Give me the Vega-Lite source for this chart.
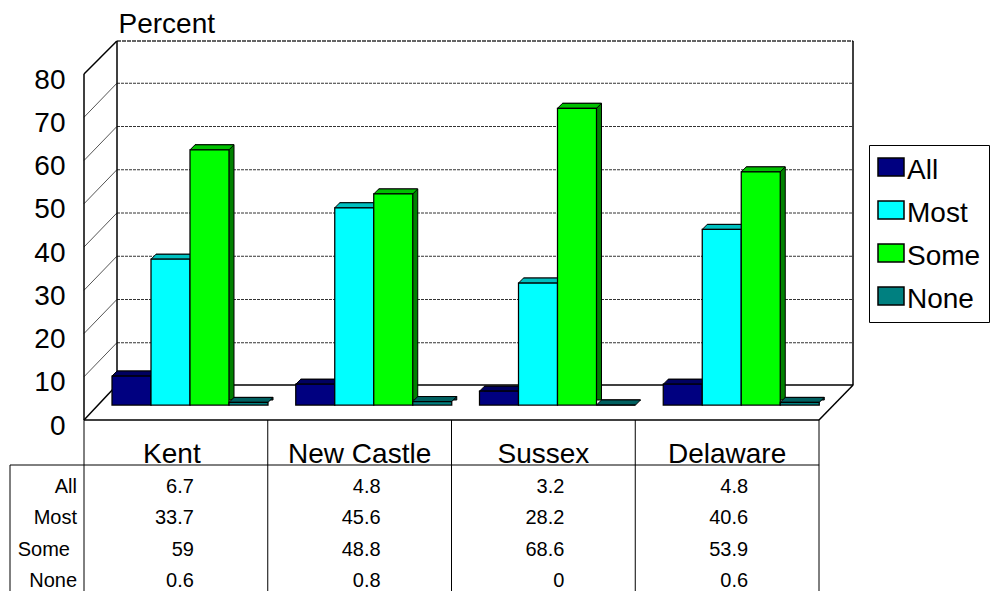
{
  "$schema": "https://vega.github.io/schema/vega-lite/v6.json",
  "width": 990,
  "height": 591,
  "padding": 0,
  "autosize": {"type": "none"},
  "background": "white",
  "config": {
    "view": {"stroke": null},
    "font": "Liberation Sans",
    "legend": {"labelFont": "Liberation Sans"}
  },
  "datasets": {
    "shares": [
      {"county": "Kent", "series": "All", "value": 6.7},
      {"county": "Kent", "series": "Most", "value": 33.7},
      {"county": "Kent", "series": "Some", "value": 59},
      {"county": "Kent", "series": "None", "value": 0.6},
      {"county": "New Castle", "series": "All", "value": 4.8},
      {"county": "New Castle", "series": "Most", "value": 45.6},
      {"county": "New Castle", "series": "Some", "value": 48.8},
      {"county": "New Castle", "series": "None", "value": 0.8},
      {"county": "Sussex", "series": "All", "value": 3.2},
      {"county": "Sussex", "series": "Most", "value": 28.2},
      {"county": "Sussex", "series": "Some", "value": 68.6},
      {"county": "Sussex", "series": "None", "value": 0},
      {"county": "Delaware", "series": "All", "value": 4.8},
      {"county": "Delaware", "series": "Most", "value": 40.6},
      {"county": "Delaware", "series": "Some", "value": 53.9},
      {"county": "Delaware", "series": "None", "value": 0.6}
    ],
    "ticks": [{"tick": 10}, {"tick": 20}, {"tick": 30}, {"tick": 40}, {"tick": 50}, {"tick": 60}, {"tick": 70}],
    "one": [{"note": "frame"}]
  },
  "data": {"name": "shares"},
  "resolve": {"scale": {"y": "independent"}, "axis": {"y": "independent"}},
  "layer": [
    {
      "resolve": {"scale": {"xOffset": "independent"}},
      "layer": [
        {
          "data": {"name": "ticks"},
          "mark": {"type": "rule", "stroke": "#333333", "strokeWidth": 1, "strokeDash": [3, 1], "xOffset": 33, "x2Offset": 126, "yOffset": -34, "y2Offset": -34},
          "encoding": {
            "x": {"datum": "Kent", "type": "nominal", "bandPosition": 0, "scale": {"domain": ["Kent", "New Castle", "Sussex", "Delaware"], "range": [84, 819], "paddingInner": 0, "paddingOuter": 0},
              "axis": {
                "orient": "top", "offset": -462, "domain": false, "ticks": false, "grid": false, "title": null,
                "labelAngle": 0, "labelFontSize": 28, "labelColor": "#000", "labelPadding": 0, "labelBaseline": "alphabetic",
                "labelFlush": false, "labelOverlap": false,
                "labelOffset": {"condition": {"test": "datum.value === 'Kent'", "value": -4}, "value": 0}
              }
            },
            "x2": {"datum": "Delaware"},
            "y": {
              "field": "tick", "type": "quantitative",
              "scale": {"domain": [0, 80], "range": [420, 74], "nice": false, "zero": false},
              "axis": {
                "values": [0, 10, 20, 30, 40, 50, 60, 70, 80],
                "orient": "left", "offset": -84, "domain": false, "ticks": false, "grid": false,
                "labelFontSize": 28, "labelColor": "#000", "labelPadding": 19, "labelOffset": 6,
                "title": "Percent", "titleFontSize": 28, "titleFontWeight": "normal", "titleColor": "#000",
                "titleAngle": 0, "titleAlign": "left", "titleBaseline": "alphabetic", "titleX": 34, "titleY": 32
              }
            },
            "y2": {"field": "tick"}
          }
        },
        {
          "data": {"name": "ticks"},
          "mark": {"type": "rule", "stroke": "#555555", "strokeWidth": 1, "x2Offset": -59, "y2Offset": -34},
          "encoding": {
            "x": {"datum": "Kent", "type": "nominal", "bandPosition": 0},
            "x2": {"datum": "Kent"},
            "y": {"field": "tick", "type": "quantitative"},
            "y2": {"field": "tick"}
          }
        },
        {
          "data": {"name": "one"},
          "mark": {"type": "rule", "stroke": "#000", "strokeWidth": 1.5, "x2Offset": -59, "y2Offset": -33},
          "encoding": {
            "x": {"datum": "Kent", "type": "nominal", "bandPosition": 0},
            "x2": {"datum": "Kent"},
            "y": {"datum": 80, "type": "quantitative"},
            "y2": {"datum": 80}
          }
        },
        {
          "data": {"name": "one"},
          "mark": {"type": "rule", "stroke": "#000", "strokeWidth": 1.5, "x2Offset": -59, "y2Offset": -35},
          "encoding": {
            "x": {"datum": "Kent", "type": "nominal", "bandPosition": 0},
            "x2": {"datum": "Kent"},
            "y": {"datum": 0, "type": "quantitative"},
            "y2": {"datum": 0}
          }
        },
        {
          "data": {"name": "one"},
          "mark": {"type": "rule", "stroke": "#333", "strokeWidth": 1.5, "strokeDash": [4, 1], "xOffset": 33, "x2Offset": 126, "yOffset": -33, "y2Offset": -33},
          "encoding": {
            "x": {"datum": "Kent", "type": "nominal", "bandPosition": 0},
            "x2": {"datum": "Delaware"},
            "y": {"datum": 80, "type": "quantitative"},
            "y2": {"datum": 80}
          }
        },
        {
          "data": {"name": "one"},
          "mark": {"type": "rule", "stroke": "#000", "strokeWidth": 1.5, "xOffset": 33, "x2Offset": 126, "yOffset": -35, "y2Offset": -35},
          "encoding": {
            "x": {"datum": "Kent", "type": "nominal", "bandPosition": 0},
            "x2": {"datum": "Delaware"},
            "y": {"datum": 0, "type": "quantitative"},
            "y2": {"datum": 0}
          }
        },
        {
          "data": {"name": "one"},
          "mark": {"type": "rule", "stroke": "#000", "strokeWidth": 1.5, "x2Offset": 92},
          "encoding": {
            "x": {"datum": "Kent", "type": "nominal", "bandPosition": 0},
            "x2": {"datum": "Delaware"},
            "y": {"datum": 0, "type": "quantitative"},
            "y2": {"datum": 0}
          }
        },
        {
          "data": {"name": "one"},
          "mark": {"type": "rule", "stroke": "#000", "strokeWidth": 1.5},
          "encoding": {
            "x": {"datum": "Kent", "type": "nominal", "bandPosition": 0},
            "y": {"datum": 0, "type": "quantitative"},
            "y2": {"datum": 80}
          }
        },
        {
          "data": {"name": "one"},
          "mark": {"type": "rule", "stroke": "#000", "strokeWidth": 1.5, "xOffset": 33, "yOffset": -35, "y2Offset": -33},
          "encoding": {
            "x": {"datum": "Kent", "type": "nominal", "bandPosition": 0},
            "y": {"datum": 0, "type": "quantitative"},
            "y2": {"datum": 80}
          }
        },
        {
          "data": {"name": "one"},
          "mark": {"type": "rule", "stroke": "#000", "strokeWidth": 1.5, "xOffset": 34, "yOffset": -35, "y2Offset": -33},
          "encoding": {
            "x": {"datum": "Delaware", "type": "nominal", "bandPosition": 1},
            "y": {"datum": 0, "type": "quantitative"},
            "y2": {"datum": 80}
          }
        },
        {
          "data": {"name": "one"},
          "mark": {"type": "rule", "stroke": "#000", "strokeWidth": 1.5, "x2Offset": 126, "y2Offset": -35},
          "encoding": {
            "x": {"datum": "Delaware", "type": "nominal", "bandPosition": 1},
            "x2": {"datum": "Delaware"},
            "y": {"datum": 0, "type": "quantitative"},
            "y2": {"datum": 0}
          }
        },
        {
          "mark": {"type": "bar", "stroke": "#000", "strokeWidth": 1, "yOffset": -20, "y2Offset": -20},
          "encoding": {
            "x": {"field": "county", "type": "nominal", "bandPosition": 0},
            "xOffset": {"field": "series", "type": "nominal", "scale": {"domain": ["All", "Most", "Some", "None"], "range": [33, 189], "paddingInner": 0, "paddingOuter": 0}},
            "y": {"field": "value", "type": "quantitative"},
            "y2": {"datum": 0},
            "fill": {"field": "series", "type": "nominal", "legend": null, "scale": {"domain": ["None", "Some", "Most", "All"], "range": ["#006060", "#00c000", "#00c0c0", "#000060"]}}
          }
        },
        {
          "mark": {"type": "bar", "fill": "#000", "fillOpacity": 0.33, "yOffset": -20, "y2Offset": -20},
          "encoding": {
            "x": {"field": "county", "type": "nominal", "bandPosition": 0},
            "xOffset": {"field": "series", "type": "nominal", "scale": {"domain": ["All", "Most", "Some", "None"], "range": [33, 189], "paddingInner": 0, "paddingOuter": 0}},
            "y": {"field": "value", "type": "quantitative"},
            "y2": {"datum": 0}
          }
        },
        {
          "mark": {"type": "point", "shape": "M-19.5,0L-14.5,-5L24.5,-5L19.5,0Z", "size": 4, "filled": true, "opacity": 1, "stroke": "#000", "strokeWidth": 1, "yOffset": -15},
          "encoding": {
            "x": {"field": "county", "type": "nominal"},
            "xOffset": {"field": "series", "type": "nominal", "scale": {"type": "band", "domain": ["All", "Most", "Some", "None"], "range": [28, 184], "paddingInner": 0, "paddingOuter": 0}},
            "y": {"field": "value", "type": "quantitative"},
            "fill": {"field": "series", "type": "nominal", "legend": null}
          }
        },
        {
          "mark": {"type": "bar", "stroke": "#000", "strokeWidth": 1.25, "yOffset": -15, "y2Offset": -15},
          "encoding": {
            "x": {"field": "county", "type": "nominal"},
            "xOffset": {"field": "series", "type": "nominal", "scale": {"domain": ["All", "Most", "Some", "None"], "range": [28, 184], "paddingInner": 0, "paddingOuter": 0}},
            "y": {"field": "value", "type": "quantitative"},
            "y2": {"datum": 0},
            "color": {
              "field": "series", "type": "nominal",
              "scale": {"domain": ["All", "Most", "Some", "None"], "range": ["#000080", "#00ffff", "#00ff00", "#008080"]},
              "legend": {
                "orient": "none", "legendX": 869, "legendY": 145, "title": null,
                "fillColor": "white", "strokeColor": "#000", "padding": 8,
                "symbolType": "M-1,-0.69H1V0.69H-1Z", "symbolSize": 676, "symbolStrokeColor": "#000", "symbolStrokeWidth": 1.5, "symbolOpacity": 1,
                "labelFontSize": 28, "labelColor": "#000", "labelOffset": 2, "rowPadding": 11,
                "encode": {"labels": {"update": {"dy": {"value": 4}}}}
              }
            }
          }
        }
      ]
    },
    {
      "layer": [
        {
          "data": {"name": "one"},
          "mark": {"type": "rule", "stroke": "#000", "strokeWidth": 1, "xOffset": -74, "x2Offset": 92, "y2Offset": -15.75},
          "encoding": {
            "x": {"datum": "Kent", "type": "nominal", "bandPosition": 0},
            "x2": {"datum": "Delaware"},
            "y": {"datum": "All", "type": "nominal", "bandPosition": 0, "scale": {"domain": ["All", "Most", "Some", "None"], "range": [465, 591], "paddingInner": 0, "paddingOuter": 0}, "axis": null},
            "y2": {"datum": "All"}
          }
        },
        {
          "data": {"name": "one"},
          "mark": {"type": "rule", "stroke": "#000", "strokeWidth": 1, "xOffset": -74, "y2Offset": 16},
          "encoding": {
            "x": {"datum": "Kent", "type": "nominal", "bandPosition": 0},
            "y": {"datum": "All", "type": "nominal", "bandPosition": 0, "axis": null},
            "y2": {"datum": "None"}
          }
        },
        {
          "mark": {"type": "rule", "stroke": "#000", "strokeWidth": 1, "yOffset": -45, "y2Offset": 16},
          "transform": [{"filter": "datum.series === 'All'"}],
          "encoding": {
            "x": {"field": "county", "type": "nominal", "bandPosition": 0},
            "y": {"datum": "All", "type": "nominal", "bandPosition": 0, "axis": null},
            "y2": {"datum": "None"}
          }
        },
        {
          "data": {"name": "one"},
          "mark": {"type": "rule", "stroke": "#000", "strokeWidth": 1, "yOffset": -45, "y2Offset": 16},
          "encoding": {
            "x": {"datum": "Delaware", "type": "nominal", "bandPosition": 1},
            "y": {"datum": "All", "type": "nominal", "bandPosition": 0, "axis": null},
            "y2": {"datum": "None"}
          }
        },
        {
          "transform": [{"filter": "datum.county !== 'Kent'"}],
          "mark": {"type": "text", "align": "right", "baseline": "middle", "fontSize": 20, "color": "#000", "dx": 21, "dy": 6},
          "encoding": {
            "x": {"field": "county", "type": "nominal"},
            "y": {"field": "series", "type": "nominal", "axis": null},
            "text": {"field": "value", "type": "quantitative", "format": ".3~g"}
          }
        },
        {
          "transform": [{"filter": "datum.county === 'Kent'"}],
          "mark": {"type": "text", "align": "right", "baseline": "middle", "fontSize": 20, "color": "#000", "dx": 18, "dy": 6},
          "encoding": {
            "x": {"field": "county", "type": "nominal"},
            "y": {"field": "series", "type": "nominal", "axis": null},
            "text": {"field": "value", "type": "quantitative", "format": ".3~g"}
          }
        },
        {
          "transform": [{"filter": "datum.county === 'Kent' && datum.series !== 'Some'"}],
          "mark": {"type": "text", "align": "right", "baseline": "middle", "fontSize": 20, "color": "#000", "dx": -7, "dy": 6},
          "encoding": {
            "x": {"field": "county", "type": "nominal", "bandPosition": 0},
            "y": {"field": "series", "type": "nominal", "axis": null},
            "text": {"field": "series", "type": "nominal"}
          }
        },
        {
          "transform": [{"filter": "datum.county === 'Kent' && datum.series === 'Some'"}],
          "mark": {"type": "text", "align": "right", "baseline": "middle", "fontSize": 20, "color": "#000", "dx": -14, "dy": 6},
          "encoding": {
            "x": {"field": "county", "type": "nominal", "bandPosition": 0},
            "y": {"field": "series", "type": "nominal", "axis": null},
            "text": {"field": "series", "type": "nominal"}
          }
        }
      ]
    }
  ]
}
